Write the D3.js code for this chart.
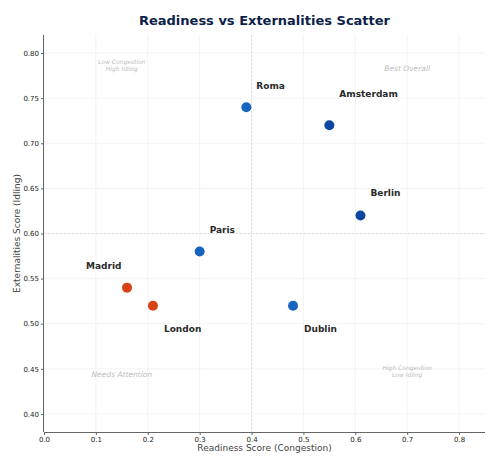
<!DOCTYPE html>
<html>
<head>
<meta charset="utf-8">
<title>Readiness vs Externalities Scatter</title>
<script src="https://cdn.jsdelivr.net/npm/d3@7"></script>
<style>
  body { margin: 0; background: #fff; }
  text { font-family: 'DejaVu Sans', sans-serif; }
  .grid line { stroke: #ececec; stroke-width: 0.6; }
  .axis path, .axis line { stroke: #666; }
  .axis text { fill: #222; font-size: 7px; }
</style>
</head>
<body>
<div id="chart"></div>
<script>
// ******* Data *******
const cities = ["Roma", "Amsterdam", "Berlin", "Paris", "Madrid", "London", "Dublin"];
const readiness = [0.39, 0.55, 0.61, 0.30, 0.16, 0.21, 0.48];
const externalities = [0.74, 0.72, 0.62, 0.58, 0.54, 0.52, 0.52];
const group = ["mid", "top", "top", "mid", "low", "low", "mid"];
const xTicks = [0, 0.1, 0.2, 0.3, 0.4, 0.5, 0.6, 0.7, 0.8];
const yTicks = [0.40, 0.45, 0.50, 0.55, 0.60, 0.65, 0.70, 0.75, 0.80];
const quadrantNotes = [
  {lines: ["Low Congestion", "High Idling"], x: 0.15, y: 0.78},
  {lines: ["Best Overall"], x: 0.70, y: 0.78},
  {lines: ["Needs Attention"], x: 0.15, y: 0.44},
  {lines: ["High Congestion", "Low Idling"], x: 0.70, y: 0.44}
];

// ******* Styles / layout *******
const width = 500, height = 468;
const margin = {top: 35, right: 15, bottom: 36, left: 44};
const colors = {top: "#0d47a1", mid: "#1565c0", low: "#d84315"};
// label offsets in px from the point (dx, dy)
const labelOffset = {
  Roma: [10, -21], Amsterdam: [10, -31], Berlin: [10, -22],
  Paris: [10, -22], Madrid: [-41, -22], London: [11, 23], Dublin: [11, 23]
};

// ******* Scales *******
const x = d3.scaleLinear().domain([0, 0.85]).range([margin.left, width - margin.right]);
const y = d3.scaleLinear().domain([0.38, 0.82]).range([height - margin.bottom, margin.top]);

const svg = d3.select("#chart").append("svg")
    .attr("width", width)
    .attr("height", height);

// grid
svg.append("g").attr("class", "grid")
  .selectAll("line").data(xTicks).join("line")
    .attr("x1", d => x(d)).attr("x2", d => x(d))
    .attr("y1", margin.top).attr("y2", height - margin.bottom);
svg.append("g").attr("class", "grid")
  .selectAll("line").data(yTicks).join("line")
    .attr("y1", d => y(d)).attr("y2", d => y(d))
    .attr("x1", margin.left).attr("x2", width - margin.right);

// threshold lines
svg.append("line")
    .attr("x1", x(0.4)).attr("x2", x(0.4))
    .attr("y1", margin.top).attr("y2", height - margin.bottom)
    .attr("stroke", "#d8d8d8").attr("stroke-dasharray", "2,2").attr("stroke-width", 0.8);
svg.append("line")
    .attr("y1", y(0.6)).attr("y2", y(0.6))
    .attr("x1", margin.left).attr("x2", width - margin.right)
    .attr("stroke", "#d8d8d8").attr("stroke-dasharray", "2,2").attr("stroke-width", 0.8);

// ******* Axes *******
svg.append("g").attr("class", "axis")
    .attr("transform", `translate(0,${height - margin.bottom})`)
    .call(d3.axisBottom(x).tickValues(xTicks).tickFormat(d3.format(".1f")).tickSizeOuter(0).tickSize(3).tickPadding(2))
    .call(g => g.select(".domain").attr("d", `M${margin.left},0.5H${width - margin.right}`));
svg.append("g").attr("class", "axis")
    .attr("transform", `translate(${margin.left},0)`)
    .call(d3.axisLeft(y).tickValues(yTicks).tickFormat(d3.format(".2f")).tickSizeOuter(0).tickSize(3).tickPadding(2))
    .call(g => g.select(".domain").attr("d", `M-0.5,${margin.top}V${height - margin.bottom}`));

svg.append("text")
    .attr("x", (margin.left + width - margin.right) / 2)
    .attr("y", 451)
    .attr("text-anchor", "middle")
    .attr("font-size", 9).attr("fill", "#444")
    .text("Readiness Score (Congestion)");

svg.append("text")
    .attr("transform", `translate(20,${(margin.top + height - margin.bottom) / 2}) rotate(-90)`)
    .attr("text-anchor", "middle")
    .attr("font-size", 9).attr("fill", "#444")
    .text("Externalities Score (Idling)");

// title
svg.append("text")
    .attr("x", (margin.left + width - margin.right) / 2).attr("y", 25)
    .attr("text-anchor", "middle")
    .attr("font-size", 13).attr("font-weight", "bold").attr("fill", "#0d1f4a")
    .text("Readiness vs Externalities Scatter");

// quadrant notes (last line sits on the anchor value)
quadrantNotes.forEach(q => {
  const n = q.lines.length;
  const t = svg.append("text")
      .attr("x", x(q.x)).attr("y", y(q.y) - (n - 1) * 7 - 0.5)
      .attr("text-anchor", "middle")
      .attr("font-size", n > 1 ? 6 : 7.5)
      .attr("font-style", "italic").attr("fill", "#bdbdbd");
  q.lines.forEach((l, i) => {
    t.append("tspan").attr("x", x(q.x)).attr("dy", i === 0 ? 0 : 7).text(l);
  });
});

// ******* Points *******
const data = cities.map((c, i) => ({city: c, rx: readiness[i], ey: externalities[i], g: group[i]}));

svg.selectAll("circle.pt").data(data).join("circle")
    .attr("class", "pt")
    .attr("cx", d => x(d.rx)).attr("cy", d => y(d.ey))
    .attr("r", 5)
    .attr("fill", d => colors[d.g]);

svg.selectAll("text.lbl").data(data).join("text")
    .attr("class", "lbl")
    .attr("x", d => x(d.rx) + labelOffset[d.city][0])
    .attr("y", d => y(d.ey) + labelOffset[d.city][1] + 3)
    .attr("font-size", 9).attr("font-weight", "bold").attr("fill", "#2a2a2a")
    .text(d => d.city);
</script>
</body>
</html>
